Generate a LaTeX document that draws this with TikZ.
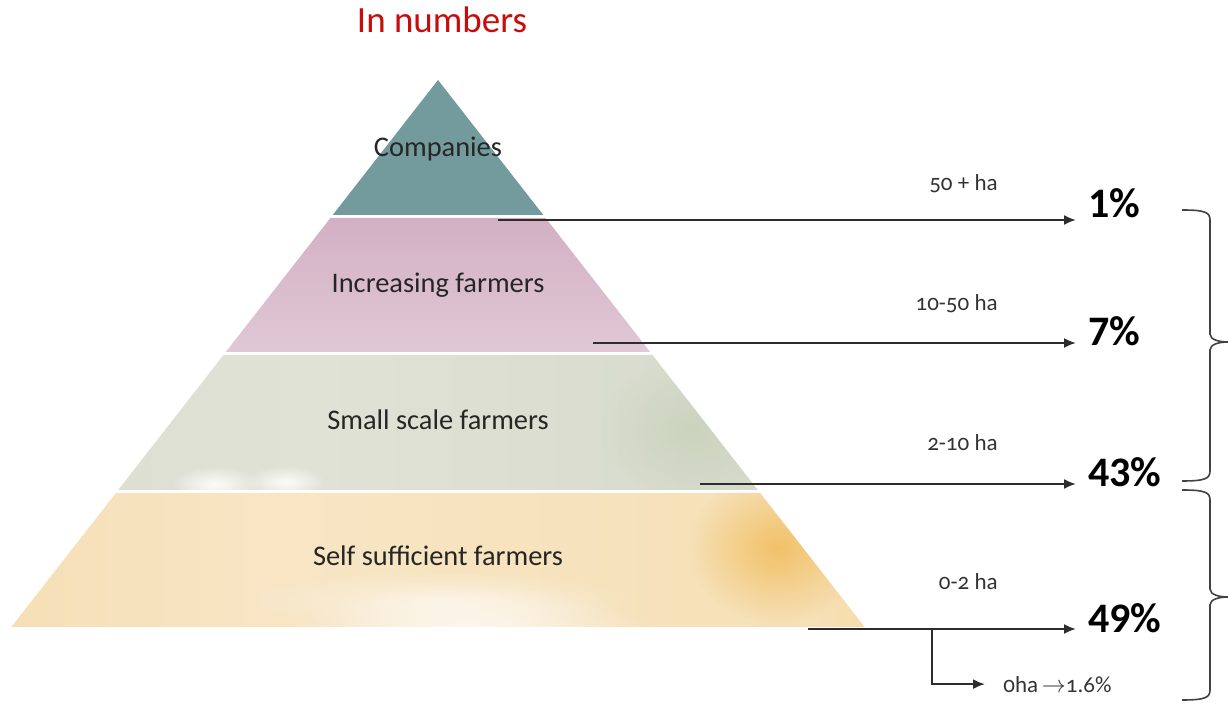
\documentclass[tikz,border=0pt]{standalone}
\usepackage{fontspec}
\setmainfont{Carlito}
\newfontfamily\osf{Carlito}[Numbers=OldStyle]
\usetikzlibrary{arrows.meta,fadings,calc}
\definecolor{titlered}{RGB}{200,12,12}
\definecolor{lineg}{RGB}{45,45,45}
\definecolor{teal1}{RGB}{115,155,157}
\definecolor{pinkA}{RGB}{211,176,196}
\definecolor{pinkB}{RGB}{224,200,213}
\definecolor{grnA}{RGB}{214,218,203}
\definecolor{grnB}{RGB}{224,226,214}
\definecolor{grnC}{RGB}{194,206,178}
\definecolor{orA}{RGB}{242,214,160}
\definecolor{orB}{RGB}{247,229,196}
\definecolor{orC}{RGB}{246,224,182}
\definecolor{orD}{RGB}{243,205,130}
\definecolor{orE}{RGB}{245,215,155}
\definecolor{orSpot}{RGB}{241,190,95}
\pgfdeclarehorizontalshading{selfsuff}{100bp}{color(0bp)=(orA); color(40bp)=(orB); color(72bp)=(orC); color(88bp)=(orD); color(100bp)=(orE)}
\pgfdeclarehorizontalshading{smallsc}{100bp}{color(0bp)=(grnA); color(40bp)=(grnB); color(75bp)=(grnA); color(100bp)=(grnC)}
\tikzfading[name=softblob, inner color=transparent!0, outer color=transparent!100]
\newcommand\mybrace[3]{%
  \draw[bracestyle] (1182,#1) .. controls (1204,#1) and (1210,#1+2) .. (1210,#1+10)
    -- (1210,#2-8) .. controls (1210,#2-2) and (1220,#2) .. (1228,#2)
    .. controls (1220,#2) and (1210,#2+2) .. (1210,#2+8)
    -- (1210,#3-10) .. controls (1210,#3-2) and (1204,#3) .. (1182,#3);}
\begin{document}
\begin{tikzpicture}[x=0.5pt,y=-0.5pt,
  layertext/.style={font=\fontsize{14.2pt}{16pt}\selectfont, text=black!85, anchor=base, inner sep=0pt},
  hatext/.style={font=\osf\fontsize{11.5pt}{13pt}\selectfont, text=black!80, anchor=base east, inner sep=0pt},
  pcttext/.style={font=\bfseries\fontsize{21pt}{24pt}\selectfont, anchor=base west, inner sep=0pt},
  arr/.style={draw=lineg, line width=1pt, -{Latex[length=6pt,width=5pt]}},
  bracestyle/.style={draw=lineg!90, line width=0.8pt},
  blob/.style={path fading=softblob}]
\useasboundingbox (0,0) rectangle (1228,704);
% title
\node[font=\fontsize{18.5pt}{22pt}\selectfont, text=titlered, anchor=base, inner sep=0pt] (title) at (442,33) {In numbers};
% layers
\fill[teal1] (438,80) -- (543.3,215) -- (332.7,215) -- cycle;
\shade[top color=pinkA, bottom color=pinkB] (330.4,218) -- (545.6,218) -- (650.2,352) -- (225.8,352) -- cycle;
\shade[shading=smallsc] (223.5,355) -- (652.5,355) -- (757.8,490) -- (118.2,490) -- cycle;
\shade[shading=selfsuff] (115.9,493) -- (760.1,493) -- (864.7,627) -- (11.3,627) -- cycle;
% soft highlights
\begin{scope}
  \clip (115.9,493) -- (760.1,493) -- (864.7,627) -- (11.3,627) -- cycle;
  \fill[orSpot, blob, opacity=0.9] (778,548) ellipse (90 and 75);
  \fill[white, blob, opacity=0.9] (470,640) ellipse (190 and 55);
  \fill[white, blob, opacity=0.5] (440,600) ellipse (200 and 30);
\end{scope}
\begin{scope}
  \clip (223.5,355) -- (652.5,355) -- (757.8,490) -- (118.2,490) -- cycle;
  \fill[white, blob, opacity=0.9] (215,484) ellipse (45 and 18);
  \fill[white, blob, opacity=0.9] (285,482) ellipse (40 and 16);
  \fill[grnC, blob, opacity=0.6] (690,430) ellipse (90 and 70);
\end{scope}
% layer labels
\node[layertext] (L1) at (438,157) {Companies};
\node[layertext] (L2) at (438,293) {Increasing farmers};
\node[layertext] (L3) at (438,430) {Small scale farmers};
\node[layertext] (L4) at (438,566) {Self sufficient farmers};
% ha labels
\node[hatext] (h1) at (998,191) {50 + ha};
\node[hatext] (h2) at (998,311) {10-50 ha};
\node[hatext] (h3) at (998,451) {2-10 ha};
\node[hatext] (h4) at (998,590) {0-2 ha};
% percentages
\node[pcttext] (p1) at (1088,218) {1\%};
\node[pcttext] (p2) at (1088,346) {7\%};
\node[pcttext] (p3) at (1088,487) {43\%};
\node[pcttext] (p4) at (1088,633) {49\%};
\node[font=\osf\fontsize{11.5pt}{13pt}\selectfont, text=black!80, anchor=base west, inner sep=0pt] (zero) at (1003,693) {0ha\,$\rightarrow$1.6\%};
% arrows
\coordinate (s1) at (498,220);
\coordinate (s2) at (593,343);
\coordinate (s3) at (700,484);
\coordinate (s4) at (808,629);
\coordinate (br) at (932,629);
\draw[arr, shorten >=6pt] (s1) -- (s1 -| p1.west);
\draw[arr, shorten >=6pt] (s2) -- (s2 -| p2.west);
\draw[arr, shorten >=6pt] (s3) -- (s3 -| p3.west);
\draw[arr, shorten >=6pt] (s4) -- (s4 -| p4.west);
\draw[arr, shorten >=9pt] (br) |- ($(zero.west)+(0,-1)$);
% braces
\mybrace{210}{342}{481}
\mybrace{490}{597}{700}
\end{tikzpicture}
\end{document}
